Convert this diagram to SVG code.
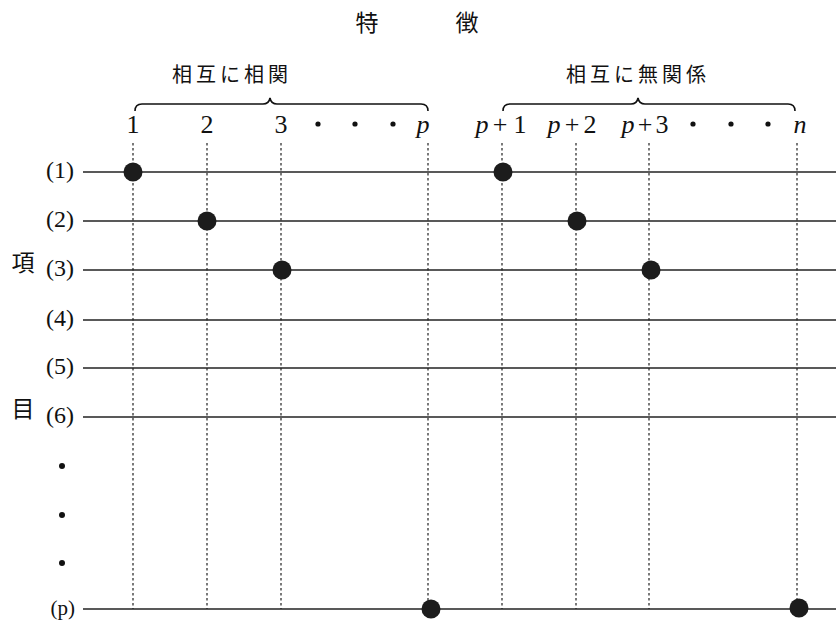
<svg xmlns="http://www.w3.org/2000/svg" width="836" height="621" viewBox="0 0 836 621">
<style>
.jp{font-family:"Noto Sans CJK JP","Noto Sans CJK SC",sans-serif;fill:#111}
.num{font-family:"Liberation Serif",serif;font-size:26px;fill:#111}
.it{font-style:italic}
.row{font-family:"Liberation Serif",serif;font-size:24px;fill:#111;text-anchor:end}
.h{stroke:#222;stroke-width:1.4;fill:none}
.v{stroke:#222;stroke-width:1.2;stroke-dasharray:2.5,2.5;fill:none}
.brace{stroke:#111;stroke-width:1.6;fill:none}
.pt{fill:#1c1c1c}
.dot{fill:#111}
</style>
<rect width="836" height="621" fill="#fff"/>
<g id="title">
<text class="jp" x="367" y="31" font-size="23" text-anchor="middle">特</text>
<text class="jp" x="467" y="31" font-size="23" text-anchor="middle">徴</text>
</g>
<g id="group-correlated">
<text class="jp" x="232" y="82" font-size="20" letter-spacing="4" text-anchor="middle">相互に相関</text>
<path class="brace" d="M135,111 Q135,104 142,104 L263,104 Q269,104 270,98 Q271,104 277,104 L421,104 Q428,104 428,111"/>
</g>
<g id="group-uncorrelated">
<text class="jp" x="638" y="82" font-size="20" letter-spacing="4" text-anchor="middle">相互に無関係</text>
<path class="brace" d="M503,111 Q503,104 510,104 L631,104 Q637,104 638,98 Q639,104 645,104 L788,104 Q795,104 795,111"/>
</g>
<g id="column-labels">
<text class="num" x="133" y="133" text-anchor="middle">1</text>
<text class="num" x="207" y="133" text-anchor="middle">2</text>
<text class="num" x="281" y="133" text-anchor="middle">3</text>
<circle class="dot" cx="318" cy="124" r="2.6"/>
<circle class="dot" cx="355" cy="124" r="2.6"/>
<circle class="dot" cx="393" cy="124" r="2.6"/>
<text class="num it" x="423" y="133" text-anchor="middle">p</text>
<text class="num it" x="482" y="133" text-anchor="middle">p</text>
<text class="num" x="500" y="133" text-anchor="middle">+</text>
<text class="num" x="520" y="133" text-anchor="middle">1</text>
<text class="num it" x="554" y="133" text-anchor="middle">p</text>
<text class="num" x="572" y="133" text-anchor="middle">+</text>
<text class="num" x="590" y="133" text-anchor="middle">2</text>
<text class="num it" x="628" y="133" text-anchor="middle">p</text>
<text class="num" x="645" y="133" text-anchor="middle">+</text>
<text class="num" x="662" y="133" text-anchor="middle">3</text>
<circle class="dot" cx="693" cy="124" r="2.6"/>
<circle class="dot" cx="731" cy="124" r="2.6"/>
<circle class="dot" cx="768" cy="124" r="2.6"/>
<text class="num it" x="800" y="133" text-anchor="middle">n</text>
</g>
<g id="row-labels">
<text class="jp" x="23" y="271" font-size="23" text-anchor="middle">項</text>
<text class="jp" x="23" y="417" font-size="23" text-anchor="middle">目</text>
<text class="row" x="74" y="178">(1)</text>
<text class="row" x="74" y="227">(2)</text>
<text class="row" x="74" y="276">(3)</text>
<text class="row" x="74" y="326">(4)</text>
<text class="row" x="74" y="374">(5)</text>
<text class="row" x="74" y="423">(6)</text>
<circle class="dot" cx="62" cy="466" r="3"/>
<circle class="dot" cx="62" cy="515" r="3"/>
<circle class="dot" cx="62" cy="563" r="3"/>
<text class="row" x="75" y="615" style="font-size:21px">(p)</text>
</g>
<g id="connectors">
<line class="h" x1="83" y1="172" x2="836" y2="172"/>
<line class="h" x1="83" y1="221" x2="836" y2="221"/>
<line class="h" x1="83" y1="270" x2="836" y2="270"/>
<line class="h" x1="83" y1="320" x2="836" y2="320"/>
<line class="h" x1="83" y1="368" x2="836" y2="368"/>
<line class="h" x1="83" y1="417" x2="836" y2="417"/>
<line class="h" x1="83" y1="609" x2="836" y2="609"/>
<line class="v" x1="133" y1="143" x2="133" y2="609"/>
<line class="v" x1="207" y1="143" x2="207" y2="609"/>
<line class="v" x1="281" y1="143" x2="281" y2="609"/>
<line class="v" x1="428" y1="143" x2="428" y2="609"/>
<line class="v" x1="502" y1="143" x2="502" y2="609"/>
<line class="v" x1="576" y1="143" x2="576" y2="609"/>
<line class="v" x1="649" y1="143" x2="649" y2="609"/>
<line class="v" x1="797" y1="143" x2="797" y2="609"/>
</g>
<g id="markers">
<circle class="pt" cx="133" cy="172" r="9.5"/>
<circle class="pt" cx="207" cy="221" r="9.5"/>
<circle class="pt" cx="282" cy="270" r="9.5"/>
<circle class="pt" cx="431" cy="609" r="9.5"/>
<circle class="pt" cx="503" cy="172" r="9.5"/>
<circle class="pt" cx="577" cy="221" r="9.5"/>
<circle class="pt" cx="651" cy="270" r="9.5"/>
<circle class="pt" cx="799" cy="608" r="9.5"/>
</g>
</svg>
